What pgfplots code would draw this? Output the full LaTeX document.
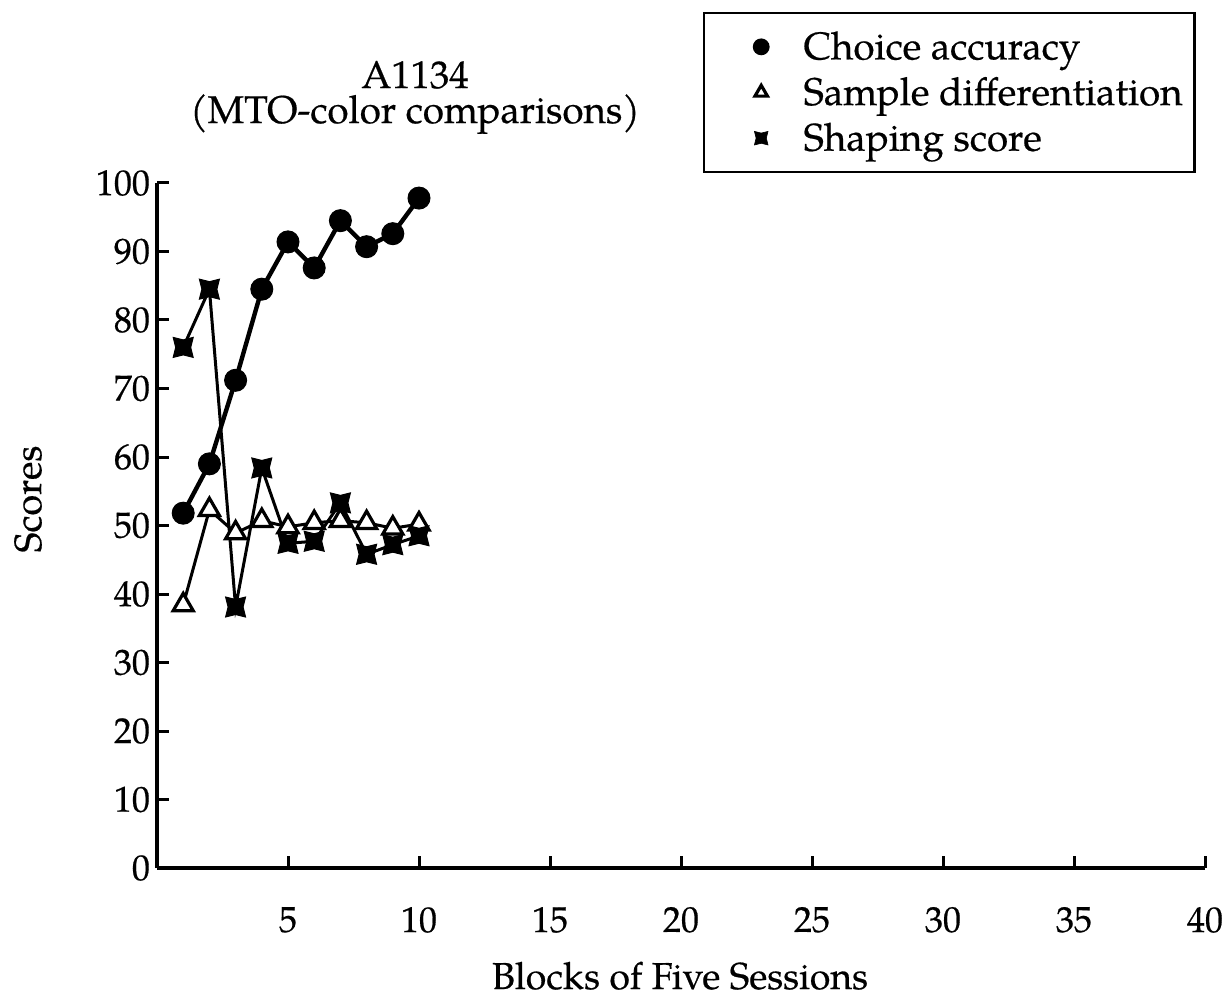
\documentclass[border=0pt]{standalone}
\usepackage{fontspec}
\setmainfont{TeX Gyre Pagella}[UprightFeatures={FakeBold=0.5}]
\usepackage{pgfplots}
\pgfplotsset{compat=1.18}

\pgfdeclareplotmark{shp}{%
  \pgfpathmoveto{\pgfqpoint{\pgfplotmarksize}{\pgfplotmarksize}}%
  \pgfpathlineto{\pgfqpoint{0pt}{0.75\pgfplotmarksize}}%
  \pgfpathlineto{\pgfqpoint{-\pgfplotmarksize}{\pgfplotmarksize}}%
  \pgfpathlineto{\pgfqpoint{-0.75\pgfplotmarksize}{0pt}}%
  \pgfpathlineto{\pgfqpoint{-\pgfplotmarksize}{-\pgfplotmarksize}}%
  \pgfpathlineto{\pgfqpoint{0pt}{-0.75\pgfplotmarksize}}%
  \pgfpathlineto{\pgfqpoint{\pgfplotmarksize}{-\pgfplotmarksize}}%
  \pgfpathlineto{\pgfqpoint{0.75\pgfplotmarksize}{0pt}}%
  \pgfpathclose
  \pgfusepathqfillstroke
}
\pgfplotsset{
  mylegmark/.style={legend image code/.code={%
    \path[draw=none, fill=none] (0pt,0pt) (36pt,0pt);
    \draw[##1] plot coordinates {(24.5pt,0pt)};}},
}

\begin{document}
\begin{tikzpicture}
\useasboundingbox (0,0) rectangle (615pt,498.5pt);
\begin{axis}[
  at={(78.5pt,64.5pt)}, anchor=south west,
  scale only axis=true,
  width=524pt, height=342.5pt,
  xmin=0, xmax=40, ymin=0, ymax=100,
  axis x line=bottom, axis y line=left,
  axis line style={-, line width=2pt},
  xtick={5,10,...,40},
  ytick={0,10,...,100},
  tick align=inside,
  major tick length=6pt,
  tick style={line width=1.5pt, black},
  /pgf/number format/assume math mode=true,
  tick label style={font=\fontsize{18}{21}\selectfont},
  xticklabel style={yshift=-16pt},
  clip=false,
  legend style={at={(0.521,1.25)}, anchor=north west, draw=black, line width=1.2pt,
    font=\fontsize{19.3}{23}\selectfont, inner xsep=4pt, inner ysep=7.2pt,
    row sep=3.3pt, column sep=7.7pt, cells={anchor=west}},
  legend cell align=left,
]
\addplot[forget plot, black, line width=2.2pt, mark=*, mark size=5.5pt, mark options={solid, fill=black, line width=0.5pt}]
  coordinates {(1,51.8)(2,59)(3,71.2)(4,84.5)(5,91.4)(6,87.6)(7,94.5)(8,90.7)(9,92.6)(10,97.8)};
\addplot[forget plot, black, line width=1.5pt, mark=triangle*, mark size=5.8pt, mark options={solid, fill=white, line width=1.6pt}]
  coordinates {(1,38.4)(2,52.3)(3,48.9)(4,50.7)(5,49.8)(6,50.4)(7,50.7)(8,50.4)(9,49.6)(10,50.2)};
\addplot[forget plot, black, line width=1.5pt, mark=shp, mark size=5pt, mark options={solid, fill=black, line width=0.5pt}]
  coordinates {(1,76)(2,84.5)(3,38.1)(4,58.4)(5,47.4)(6,47.7)(7,53.3)(8,45.8)(9,47.2)(10,48.5)};
\addlegendimage{mylegmark, only marks, black, mark=*, mark size=3.6pt}
\addlegendentry{Choice accuracy}
\addlegendimage{mylegmark, only marks, black, mark=triangle*, mark size=3.6pt, mark options={fill=white, line width=1.6pt}}
\addlegendentry{Sample differentiation}
\addlegendimage{mylegmark, only marks, black, mark=shp, mark size=3.4pt, mark options={fill=black, line width=0.3pt}}
\addlegendentry{Shaping score}
\end{axis}
\node[anchor=base, font=\fontsize{19.3}{23}\selectfont] at (207.5pt,454.5pt) {A1134};
\node[anchor=base, font=\fontsize{19.3}{23}\selectfont] at (207.5pt,437pt) {(MTO-color comparisons)};
\node[rotate=90, font=\fontsize{19}{23}\selectfont] at (14pt,249pt) {Scores};
\node[anchor=base, font=\fontsize{18.75}{22}\selectfont] at (340pt,4pt) {Blocks of Five Sessions};
\end{tikzpicture}
\end{document}
